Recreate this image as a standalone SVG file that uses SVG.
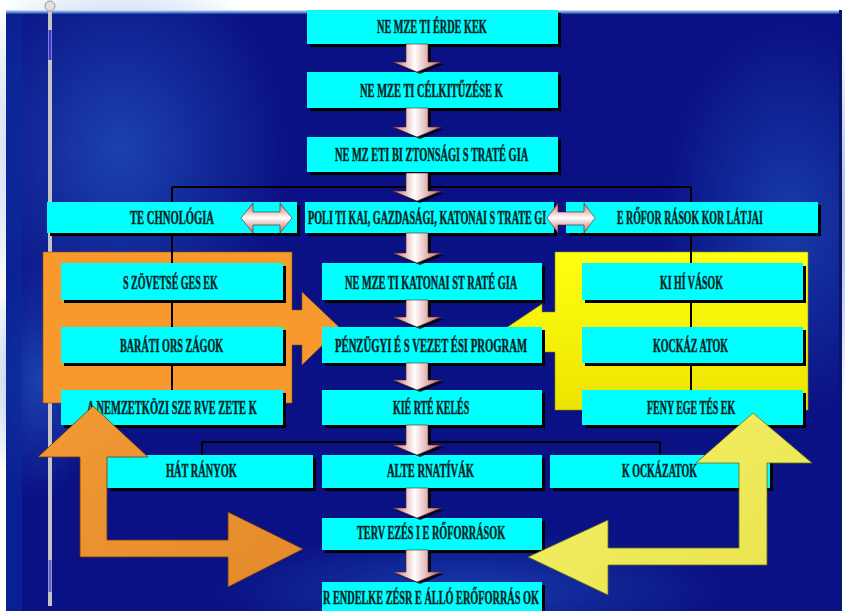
<svg xmlns="http://www.w3.org/2000/svg" width="845" height="611" viewBox="0 0 845 611">
<defs>
<style>
.sh{fill:#000}
.bx{fill:#00FFFF}
.t{font-family:"Liberation Serif","Times New Roman",serif;font-weight:bold;font-size:19px;fill:#06201e;stroke:#0a3030;stroke-width:0.5}
.ln{stroke:#000;stroke-width:2;fill:none}
.dn{fill:url(#pinkH);stroke:#5a2020;stroke-width:0.6}
.db{fill:url(#pinkV);stroke:#5a2020;stroke-width:0.6}
.ash{fill:#000;opacity:0.8}
</style>
<linearGradient id="pinkH" x1="0" y1="0" x2="1" y2="0">
<stop offset="0" stop-color="#c96a6a"/><stop offset="0.45" stop-color="#ffffff"/><stop offset="1" stop-color="#c06262"/>
</linearGradient>
<linearGradient id="pinkV" x1="0" y1="0" x2="0" y2="1">
<stop offset="0" stop-color="#c96a6a"/><stop offset="0.5" stop-color="#ffffff"/><stop offset="1" stop-color="#c06262"/>
</linearGradient>
<linearGradient id="topEdge" x1="0" y1="0" x2="0" y2="1">
<stop offset="0" stop-color="#c8f4ff"/><stop offset="1" stop-color="#1a3aa8"/>
</linearGradient>
<radialGradient id="glowL" cx="0.5" cy="0.5" r="0.5">
<stop offset="0" stop-color="#2a6ad0" stop-opacity="0.55"/><stop offset="1" stop-color="#2a6ad0" stop-opacity="0"/>
</radialGradient>
<radialGradient id="glowR" cx="0.5" cy="0.5" r="0.5">
<stop offset="0" stop-color="#2058c0" stop-opacity="0.6"/><stop offset="1" stop-color="#2058c0" stop-opacity="0"/>
</radialGradient>
<linearGradient id="orgL" x1="0" y1="0" x2="1" y2="1">
<stop offset="0" stop-color="#f29a34"/><stop offset="1" stop-color="#e3892c"/>
</linearGradient>
<linearGradient id="yelL" x1="0" y1="0" x2="1" y2="1">
<stop offset="0" stop-color="#f6f26a"/><stop offset="1" stop-color="#e8e24c"/>
</linearGradient>
<linearGradient id="yelB" x1="0" y1="0" x2="0" y2="1">
<stop offset="0" stop-color="#ffff10"/><stop offset="1" stop-color="#ece400"/>
</linearGradient>
</defs>

<!-- background -->
<rect x="0" y="0" width="845" height="611" fill="#ffffff"/>
<rect x="6" y="10" width="836" height="601" fill="#0a1184"/>
<ellipse cx="120" cy="150" rx="170" ry="200" fill="url(#glowL)"/>
<ellipse cx="40" cy="380" rx="60" ry="120" fill="url(#glowL)"/>
<ellipse cx="790" cy="220" rx="130" ry="200" fill="url(#glowR)"/>
<ellipse cx="470" cy="590" rx="260" ry="60" fill="url(#glowR)"/>
<rect x="6" y="10" width="16" height="601" fill="#0a2a9c" opacity="0.6"/>
<rect x="6" y="10" width="836" height="4" fill="url(#topEdge)"/>
<rect x="839" y="10" width="3" height="601" fill="#0a1470"/>
<rect x="48" y="8" width="4" height="598" fill="#c4c4c4"/>
<rect x="48.5" y="30" width="3" height="30" fill="#3a3ad0"/>
<rect x="48.5" y="560" width="3" height="32" fill="#3a3ad0" opacity="0.7"/>
<circle cx="50" cy="6" r="5" fill="#e0e0e0" stroke="#9a9a9a" stroke-width="1"/>

<!-- side blocks with arrows -->
<g id="orange-block">
<polygon points="43,252 292,252 292,310 302,310 302,292 340,328 302,365 302,345 292,345 292,403 43,403" fill="#f7992c" stroke="#8a5010" stroke-width="0.6"/>
</g>
<g id="yellow-block">
<polygon points="808,252 555,252 555,312 542,312 542,304 500,332 542,360 542,352 555,352 555,410 808,410" fill="url(#yelB)" stroke="#8a8a10" stroke-width="0.6"/>
</g>

<!-- connectors -->
<g id="connectors">
<path class="ln" d="M172,187 H691 M172,187 V390 M691,187 V390"/>
<path class="ln" d="M202,442 H660 M202,442 V455 M660,442 V455"/>
</g>

<!-- nodes -->
<g id="n-erdekek"><rect class="sh" x="310" y="13" width="251" height="34"/><rect class="bx" x="307" y="10" width="251" height="34"/><text class="t" transform="translate(377,33) scale(0.6,1)" textLength="183" lengthAdjust="spacingAndGlyphs">NE MZE TI ÉRDE KEK</text></g>
<g id="n-celkituzesek"><rect class="sh" x="310" y="75" width="251" height="36"/><rect class="bx" x="307" y="72" width="251" height="36"/><text class="t" transform="translate(360,96.5) scale(0.6,1)" textLength="238" lengthAdjust="spacingAndGlyphs">NE MZE TI CÉLKITŰZÉSE K</text></g>
<g id="n-biztonsagi"><rect class="sh" x="310" y="140" width="251" height="35"/><rect class="bx" x="307" y="137" width="251" height="35"/><text class="t" transform="translate(335,160.5) scale(0.6,1)" textLength="322" lengthAdjust="spacingAndGlyphs">NE MZ ETI BI ZTONSÁGI S TRATÉ GIA</text></g>

<g id="n-technologia"><rect class="sh" x="50" y="205" width="250" height="31"/><rect class="bx" x="47" y="202" width="250" height="31"/><text class="t" transform="translate(130,223.5) scale(0.6,1)" textLength="140" lengthAdjust="spacingAndGlyphs">TE CHNOLÓGIA</text></g>
<g id="n-politikai"><rect class="sh" x="308" y="205" width="249" height="31"/><rect class="bx" x="305" y="202" width="249" height="31"/><text class="t" transform="translate(308,223.5) scale(0.6,1)" textLength="397" lengthAdjust="spacingAndGlyphs">POLI TI KAI, GAZDASÁGI, KATONAI S TRATE GI</text></g>
<g id="n-eroforrasok-korlatjai"><rect class="sh" x="569" y="205" width="252" height="31"/><rect class="bx" x="566" y="202" width="252" height="31"/><text class="t" transform="translate(617,223.5) scale(0.6,1)" textLength="243" lengthAdjust="spacingAndGlyphs">E RŐFOR RÁSOK KOR LÁTJAI</text></g>

<g id="n-szovetsegesek"><rect class="sh" x="64" y="266" width="222" height="37"/><rect class="bx" x="61" y="263" width="222" height="37"/><text class="t" transform="translate(123,288.5) scale(0.6,1)" textLength="158" lengthAdjust="spacingAndGlyphs">S ZÖVETSÉ GES EK</text></g>
<g id="n-barati"><rect class="sh" x="64" y="330" width="222" height="36"/><rect class="bx" x="61" y="327" width="222" height="36"/><text class="t" transform="translate(120,351.5) scale(0.6,1)" textLength="172" lengthAdjust="spacingAndGlyphs">BARÁTI ORS ZÁGOK</text></g>
<g id="n-nemzetkozi"><rect class="sh" x="64" y="393" width="222" height="35"/><rect class="bx" x="61" y="390" width="222" height="35"/><text class="t" transform="translate(87,413.5) scale(0.6,1)" textLength="283" lengthAdjust="spacingAndGlyphs">A NEMZETKÖZI SZE RVE ZETE K</text></g>

<g id="n-katonai"><rect class="sh" x="325" y="266" width="220" height="37"/><rect class="bx" x="322" y="263" width="220" height="37"/><text class="t" transform="translate(345,288.5) scale(0.6,1)" textLength="287" lengthAdjust="spacingAndGlyphs">NE MZE TI KATONAI ST RATÉ GIA</text></g>
<g id="n-penzugyi"><rect class="sh" x="325" y="330" width="220" height="36"/><rect class="bx" x="322" y="327" width="220" height="36"/><text class="t" transform="translate(335,351.5) scale(0.6,1)" textLength="320" lengthAdjust="spacingAndGlyphs">PÉNZÜGYI É S VEZET ÉSI PROGRAM</text></g>
<g id="n-kiertekeles"><rect class="sh" x="325" y="393" width="220" height="35"/><rect class="bx" x="322" y="390" width="220" height="35"/><text class="t" transform="translate(393,413.5) scale(0.6,1)" textLength="127" lengthAdjust="spacingAndGlyphs">KIÉ RTÉ KELÉS</text></g>

<g id="n-kihivasok"><rect class="sh" x="585" y="266" width="221" height="37"/><rect class="bx" x="582" y="263" width="221" height="37"/><text class="t" transform="translate(660,288.5) scale(0.6,1)" textLength="105" lengthAdjust="spacingAndGlyphs">KI HÍ VÁSOK</text></g>
<g id="n-kockazatok1"><rect class="sh" x="585" y="330" width="221" height="36"/><rect class="bx" x="582" y="327" width="221" height="36"/><text class="t" transform="translate(653,351.5) scale(0.6,1)" textLength="125" lengthAdjust="spacingAndGlyphs">KOCKÁZ ATOK</text></g>
<g id="n-fenyegetesek"><rect class="sh" x="585" y="393" width="221" height="35"/><rect class="bx" x="582" y="390" width="221" height="35"/><text class="t" transform="translate(647,413.5) scale(0.6,1)" textLength="147" lengthAdjust="spacingAndGlyphs">FENY EGE TÉS EK</text></g>

<g id="n-hatranyok"><rect class="sh" x="110" y="458" width="206" height="33"/><rect class="bx" x="107" y="455" width="206" height="33"/><text class="t" transform="translate(166,476.5) scale(0.6,1)" textLength="118" lengthAdjust="spacingAndGlyphs">HÁT RÁNYOK</text></g>
<g id="n-alternativak"><rect class="sh" x="325" y="458" width="220" height="33"/><rect class="bx" x="322" y="455" width="220" height="33"/><text class="t" transform="translate(387,476.5) scale(0.6,1)" textLength="145" lengthAdjust="spacingAndGlyphs">ALTE RNATÍVÁK</text></g>
<g id="n-kockazatok2"><rect class="sh" x="553" y="458" width="220" height="33"/><rect class="bx" x="550" y="455" width="220" height="33"/><text class="t" transform="translate(622,476.5) scale(0.6,1)" textLength="125" lengthAdjust="spacingAndGlyphs">K OCKÁZATOK</text></g>

<g id="n-tervezesi"><rect class="sh" x="325" y="521" width="220" height="32"/><rect class="bx" x="322" y="518" width="220" height="32"/><text class="t" transform="translate(357,538.5) scale(0.6,1)" textLength="247" lengthAdjust="spacingAndGlyphs">TERV EZÉS I E RŐFORRÁSOK</text></g>
<g id="n-rendelkezesre"><rect class="sh" x="325" y="585" width="220" height="35"/><rect class="bx" x="322" y="582" width="220" height="35"/><text class="t" transform="translate(323,603.5) scale(0.6,1)" textLength="360" lengthAdjust="spacingAndGlyphs">R ENDELKE ZÉSR E ÁLLÓ ERŐFORRÁS OK</text></g>

<!-- flow arrows -->
<g id="flow-arrows">
<path class="ash" d="M409,46 H431 V64 H444 L420,74 L396,64 H409 Z"/>
<path class="dn" d="M406,44 H428 V62 H441 L417,72 L393,62 H406 Z"/>
<path class="ash" d="M409,110 H431 V129 H444 L420,139 L396,129 H409 Z"/>
<path class="dn" d="M406,108 H428 V127 H441 L417,137 L393,127 H406 Z"/>
<path class="ash" d="M409,175 H431 V193 H444 L420,203 L396,193 H409 Z"/>
<path class="dn" d="M406,173 H428 V191 H441 L417,201 L393,191 H406 Z"/>
<path class="ash" d="M409,235 H431 V255 H444 L420,265 L396,255 H409 Z"/>
<path class="dn" d="M406,233 H428 V253 H441 L417,263 L393,253 H406 Z"/>
<path class="ash" d="M409,302 H431 V319 H444 L420,329 L396,319 H409 Z"/>
<path class="dn" d="M406,300 H428 V317 H441 L417,327 L393,317 H406 Z"/>
<path class="ash" d="M409,365 H431 V382 H444 L420,392 L396,382 H409 Z"/>
<path class="dn" d="M406,363 H428 V380 H441 L417,390 L393,380 H406 Z"/>
<path class="ash" d="M409,427 H431 V447 H444 L420,457 L396,447 H409 Z"/>
<path class="dn" d="M406,425 H428 V445 H441 L417,455 L393,445 H406 Z"/>
<path class="ash" d="M409,490 H431 V510 H444 L420,520 L396,510 H409 Z"/>
<path class="dn" d="M406,488 H428 V508 H441 L417,518 L393,508 H406 Z"/>
<path class="ash" d="M409,552 H431 V574 H444 L420,584 L396,574 H409 Z"/>
<path class="dn" d="M406,550 H428 V572 H441 L417,582 L393,572 H406 Z"/>
<path class="db" d="M241,218 L253,203 V212 H280 V203 L292,218 L280,233 V225 H253 V233 Z"/>
<path class="db" d="M547,218 L558,203 V212 H584 V203 L595,218 L584,233 V225 H558 V233 Z"/>
</g>

<!-- feedback L arrows -->
<g id="orange-arrow">
<polygon points="93,406 148,457 107,457 107,540 228,540 228,512 303,549 228,587 228,557 80,557 80,457 38,457" fill="url(#orgL)" stroke="#6a3a08" stroke-width="0.8"/>
</g>
<g id="yellow-arrow">
<polygon points="753,413 812,463 767,463 767,565 608,565 608,595 528,557 608,520 608,548 739,548 739,463 696,463" fill="url(#yelL)" stroke="#6a6a10" stroke-width="0.8"/>
</g>
</svg>
